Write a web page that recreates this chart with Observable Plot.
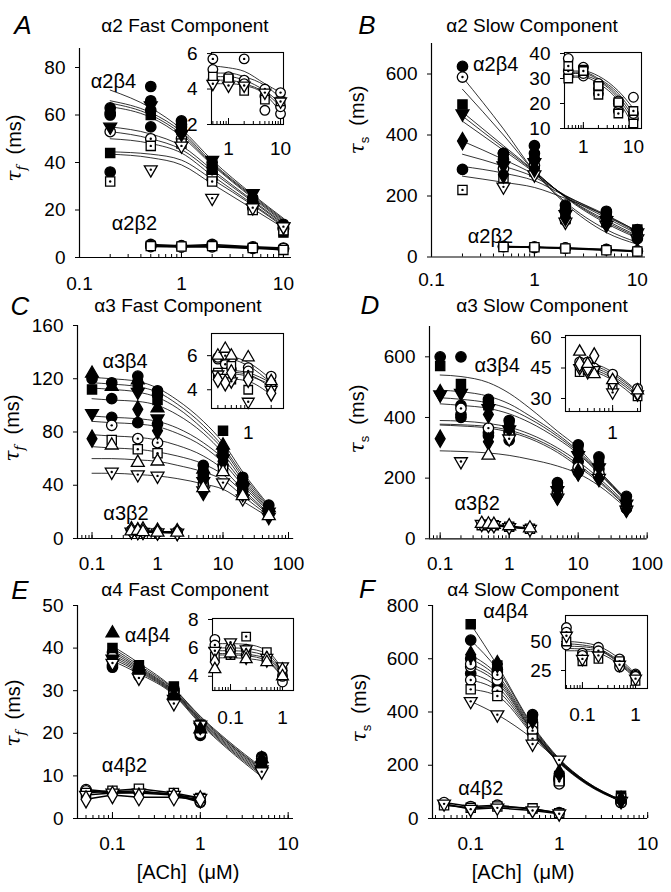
<!DOCTYPE html>
<html><head><meta charset="utf-8">
<script src="https://cdn.jsdelivr.net/npm/d3@7"></script>
<script src="https://cdn.jsdelivr.net/npm/@observablehq/plot@0.6"></script>
<style>
body{margin:0;background:#fff;}
#fig{position:relative;width:671px;height:892px;overflow:hidden;font-family:"Liberation Sans",Arial,Helvetica,sans-serif;color:#000;background:#fff;}
.abs{position:absolute;white-space:nowrap;line-height:1;}
.title{font-size:19px;transform:translate(-50%,-50%);}
.letter{font-size:26px;font-style:italic;transform:translate(-50%,-50%);}
.ylab{font-size:20px;transform:translate(-50%,-50%) rotate(-90deg);}
.ylab i{font-family:"DejaVu Serif",serif;}
.ylab sub{font-size:13px;}
.xlab{font-size:20px;transform:translate(-50%,-50%);}
</style>
</head><body><div id="fig"></div>
<script>
// ---------------- DATA ----------------
// Panel A: alpha2 fast
const aConc4 = [0.2, 0.5, 1, 2, 5, 10];
const aVals4 = [
  [63, 72, 57.5, 40, 25, 14],
  [61, 55, 56, 38, 23, 13],
  [55, 64, 52, 41, 27, 13],
  [53, 50, 50, 35, 22, 12],
  [44, 60, 54, 37, 24, 10.5],
  [36, 62, 53, 33, 21, 12],
  [32, 47, 48, 32, 20, 11.5],
  [null, 37, 47, 25, 21, 13],
  [60, 66, 55, 36, 23, 12.5]
];
const aSyms4 = ["fc", "fc", "ftd", "ocd", "fs", "fc", "osd", "otd", "fc"];
const aFitX = [0.2, 0.5, 1, 2, 5, 10];
const aFits = [
  [70.5, 63, 54, 41, 26.5, 16.5],
  [66, 61, 53, 40, 26, 16],
  [65, 60, 52, 39.5, 25.5, 15.5],
  [63.5, 59, 51, 39, 25, 15],
  [55, 52, 47, 37, 24, 14.5],
  [53, 50, 45.5, 36, 23.5, 14],
  [50, 48, 44, 34.5, 22.5, 13.5],
  [44.5, 43.5, 41, 33, 22, 13],
  [43.5, 42, 39, 31, 20.5, 12.5]
];
const aConc2 = [0.5, 1, 2, 5, 10];
const aVals2 = [
  [5.5, 5, 5.5, 4.5, 4],
  [5, 4.8, 5, 4.2, 3.5],
  [4.8, 4.6, 4.8, 4.0, 3.2],
  [4.6, 4.4, 4.5, 3.8, 3.8]
];
const aSyms2 = ["oc", "oc", "os", "ocd"];
const aInConc = [0.5, 1, 2, 5, 10];
const aInVals = [
  [5.7, 4.7, 5.7, 4.0, 3.8],
  [5.1, 4.6, 4.5, 2.8, 2.6],
  [4.7, 4.6, 3.9, 3.4, 3.3],
  [4.3, 4.2, 4.2, 3.8, 3.3],
  [4.5, 4.4, 4.3, 3.6, 3.0]
];
const aInSyms = ["ocd", "oc", "os", "otd", "oc"];
const aInFits = [
  [5.3, 5.2, 5.0, 4.3, 3.8],
  [4.9, 4.9, 4.7, 4.2, 3.5],
  [4.7, 4.7, 4.5, 3.9, 3.2],
  [4.5, 4.5, 4.3, 3.8, 3.0],
  [4.3, 4.3, 4.2, 3.7, 2.7]
];

// Panel B: alpha2 slow
const bConc4 = [0.2, 0.5, 1, 2, 5, 10];
const bVals4 = [
  [625, 340, 365, 170, 150, 90],
  [590, 290, 300, 150, 130, 70],
  [500, 330, 330, 160, 140, 90],
  [470, 300, 310, 140, 120, 80],
  [380, 270, 290, 130, 110, 65],
  [287, 320, 340, 120, 145, 60],
  [220, 260, 280, 125, 115, 75],
  [null, 230, 270, 115, 105, 60],
  [null, 340, 320, 155, 135, 85]
];
const bSyms4 = ["fc", "ocd", "fs", "ftd", "fd", "fc", "osd", "otd", "fc"];
const bFitX = [0.2, 0.5, 1, 2, 5, 10];
const bFits = [
  [590, 420, 280, 175, 80, 42],
  [550, 400, 280, 180, 90, 48],
  [475, 365, 282, 195, 110, 62],
  [462, 358, 280, 197, 115, 66],
  [445, 350, 277, 198, 120, 70],
  [380, 320, 270, 200, 128, 76],
  [337, 298, 262, 202, 134, 80],
  [297, 275, 250, 200, 138, 84],
  [265, 245, 228, 192, 135, 85]
];
const bConc2 = [0.5, 1, 2, 5, 10];
const bVals2 = [
  [35, 33, 30, 25, 20],
  [33, 32, 28, 22, 18],
  [34, 31, 29, 24, 19]
];
const bSyms2 = ["oc", "os", "ocd"];
const bInConc = [0.5, 1, 2, 5, 10];
const bInVals = [
  [38, 34.5, 28, 21, 22.5],
  [35, 33, 23.5, 16, 17],
  [33, 32, 24, 20, 16],
  [31, 31, 26, 17, 14],
  [30, 33.5, 27, 20.5, 12]
];
const bInSyms = ["oc", "osd", "ocd", "oc", "os"];
const bInFits = [
  [33, 33, 31, 25, 18],
  [32.5, 32.5, 30, 24, 16],
  [32, 32, 29.5, 23, 14.5],
  [31, 31, 29, 22, 13],
  [30.5, 30.5, 28, 21, 11]
];

// Panel C: alpha3 fast
const cConc4 = [0.1, 0.2, 0.5, 1, 5, 10, 20, 50];
const cVals4 = [
  [124, 114, 119, 98, 52, 70, 44, 23],
  [120, 117, 122, 111, 55, 67, 46, 25],
  [112, null, 116, 104, 50, 81, 42, 22],
  [null, 105, null, 108, 48, 65, 40, 21],
  [94, null, 110, 90, 43, 60, 38, 20],
  [null, 91, 87, 86, 46, 62, 37, 19],
  [null, 85, 75, 72, 41, 55, 35, 20],
  [75, null, 97, 81, 35, 58, 34, 18],
  [null, 74, 67, 64, 40, 52, 33, 18],
  [null, 70, 57, 58, 38, 50, 32, 17],
  [null, 50, 48, 47, 36, 42, 30, 16]
];
const cSyms4 = ["ftu", "fc", "fs", "fc", "ftd", "fc", "ocd", "fd", "osd", "otu", "otd"];
const cFitX = [0.1, 0.2, 0.5, 1, 2, 5, 10, 20, 50];
const cFits = [
  [121, 120, 118, 113, 104, 88, 72, 50, 25],
  [117, 116, 114, 110, 101, 85, 69, 48, 24],
  [113, 112, 110, 106, 98, 82, 67, 46, 23],
  [105, 104, 103, 100, 93, 79, 64, 44, 22],
  [92, 91, 90, 88, 83, 72, 60, 42, 21],
  [88, 87, 86, 84, 79, 69, 57, 40, 20],
  [78, 77, 76, 74, 70, 62, 52, 37, 19],
  [69, 68, 67, 65, 62, 56, 48, 35, 18],
  [60, 60, 59, 58, 55, 50, 44, 32, 17],
  [49, 49, 48, 47, 45, 41, 37, 28, 16]
];
const cConc2 = [0.4, 0.5, 0.6, 1, 2];
const cVals2 = [
  [6, 6, 5.5, 5, 5],
  [5.5, 5.8, 5, 4.6, 4.5],
  [5, 5, 4.8, 4.5, 4.2],
  [6.2, 5.5, 6, 5.2, 4.8]
];
const cSyms2 = ["oc", "otu", "otd", "od"];
const cInConc = [0.4, 0.5, 0.6, 1, 2];
const cInVals = [
  [6.0, 6.4, 6.0, 5.9, 4.5],
  [5.8, 5.7, 5.8, 5.3, 4.8],
  [5.0, 6.0, 5.4, 4.8, 4.2],
  [4.9, 4.7, 4.5, 3.3, 4.0],
  [4.6, 4.4, 5.0, 4.6, 3.8],
  [4.9, 5.0, 4.6, 4.0, 4.3],
  [5.9, 5.5, 5.2, 5.1, 4.2]
];
const cInSyms = ["otu", "oc", "osd", "otd", "od", "os", "ocd"];
const cInFits = [
  [6.0, 6.0, 5.95, 5.6, 4.6],
  [5.9, 5.85, 5.8, 5.4, 4.4],
  [5.2, 5.2, 5.15, 5.0, 4.4],
  [5.1, 5.1, 5.05, 4.9, 4.1],
  [5.0, 5.0, 4.95, 4.8, 4.3],
  [4.7, 4.7, 4.65, 4.5, 3.7]
];

// Panel D: alpha3 slow
const dConc4 = [0.1, 0.2, 0.5, 1, 5, 10, 20, 50];
const dVals4 = [
  [600, 600, 460, 390, 185, 310, 270, 140],
  [570, 510, 440, 380, 175, 300, 260, 130],
  [480, 490, 410, 370, 165, 290, 245, 120],
  [475, 480, 430, 360, 160, 275, 235, 115],
  [null, 440, 450, 350, 170, 255, 230, 110],
  [null, 430, 365, 340, 155, 235, 215, 105],
  [null, 410, 350, 325, 150, 230, 210, 100],
  [null, 400, 340, 355, 145, 220, 205, 100],
  [330, null, 320, null, 140, 220, 200, 100],
  [null, 255, null, 330, 135, 215, 200, 95],
  [null, null, 275, null, null, null, null, null]
];
const dSyms4 = ["fc", "fs", "fd", "ftd", "fc", "ocd", "fc", "fc", "fd", "otd", "otu"];
const dFitX = [0.1, 0.2, 0.5, 1, 2, 5, 10, 20, 50];
const dFits = [
  [540, 535, 515, 480, 430, 355, 300, 225, 130],
  [490, 485, 470, 445, 405, 345, 290, 222, 128],
  [465, 460, 448, 428, 395, 338, 285, 218, 125],
  [445, 440, 430, 412, 383, 330, 280, 215, 122],
  [390, 388, 380, 368, 345, 300, 255, 200, 115],
  [378, 376, 370, 358, 336, 292, 245, 192, 110],
  [375, 372, 365, 352, 330, 285, 238, 187, 106],
  [290, 288, 283, 275, 262, 240, 215, 175, 100]
];
const dConc2 = [0.4, 0.5, 0.6, 1, 2];
const dVals2 = [
  [50, 48, 47, 42, 35],
  [45, 46, 45, 40, 33],
  [48, 45, 44, 38, 32]
];
const dSyms2 = ["otu", "os", "otd"];
const dInConc = [0.4, 0.5, 0.6, 1, 2];
const dInVals = [
  [53, 47, 42, 39, 34],
  [48, 48, 45, 42, 35],
  [43, 44, 43, 36, 31],
  [47, 45, 51, 38, 33],
  [45, 43, 44, 33, 32]
];
const dInSyms = ["otu", "oc", "os", "od", "otd"];
const dInFits = [
  [48, 47.5, 47, 43, 33.5],
  [47, 46.5, 46, 42, 33],
  [46, 45.5, 45, 41, 32],
  [45, 44.5, 44, 40, 31],
  [44, 43.5, 43, 39, 29.5]
];

// Panel E: alpha4 fast
const eConc4 = [0.1, 0.2, 0.5, 1, 5];
const eVals4 = [
  [43.5, 35, 29, 21, 14],
  [40, 36, 31, 22, 13],
  [39, 35.5, 30.5, 20.5, 14.5],
  [38, 34.5, 30, 20, 14],
  [37.5, 34, 28, 21.5, 11.5],
  [37, 34, 29.5, 20, 13.5],
  [36, 35, 30, 19.5, 14],
  [36.5, 33, 27, 22, 11],
  [35.5, 33.5, 29, 20, 13]
];
const eSyms4 = ["ftu", "fs", "fc", "ocd", "ftd", "oc", "fc", "otd", "fc"];
const eFitX = [0.1, 0.2, 0.5, 1, 2, 5];
const eFits = [
  [40.5, 36.5, 30.5, 24, 18.5, 12],
  [40, 36, 30.3, 23.8, 18.2, 11.7],
  [39.5, 35.6, 30, 23.5, 18, 11.4],
  [39, 35.3, 29.8, 23.2, 17.7, 11.1],
  [38.5, 35, 29.6, 23, 17.4, 10.8],
  [38, 34.7, 29.4, 22.8, 17.1, 10.5],
  [37.5, 34.4, 29.2, 22.5, 16.8, 10.2],
  [37, 34, 29, 22.2, 16.5, 9.8]
];
const eConc2 = [0.05, 0.1, 0.2, 0.5, 1];
const eVals2 = [
  [6.5, 6.0, 6.2, 5.8, 4.0],
  [4.5, 5.5, 5, 5, 4.5],
  [6, 6.5, 7, 6, 4.8],
  [5.5, 6, 6, 5.5, 4.8],
  [6.8, 6.2, 6.5, 5.5, 3.8]
];
const eSyms2 = ["ocd", "od", "osd", "otd", "oc"];
const eInConc = [0.05, 0.1, 0.2, 0.5, 1];
const eInVals = [
  [6.6, 5.8, 5.9, 5.4, 3.6],
  [6.2, 6.0, 5.5, 5.1, 4.0],
  [5.8, 6.4, 5.9, 5.3, 4.7],
  [5.4, 5.5, 6.8, 5.7, 4.3],
  [4.5, 5.6, 5.2, 5.0, 4.0],
  [5.0, 5.8, 5.4, 5.2, 4.4]
];
const eInSyms = ["oc", "ocd", "otd", "osd", "otu", "od"];
const eInFits = [
  [6.3, 6.3, 6.25, 5.8, 4.5],
  [6.0, 6.0, 5.95, 5.6, 4.3],
  [5.8, 5.8, 5.75, 5.4, 4.2],
  [5.6, 5.6, 5.55, 5.25, 4.1],
  [5.5, 5.5, 5.45, 5.1, 4.0],
  [5.3, 5.3, 5.25, 5.0, 3.9]
];

// Panel F: alpha4 slow
const fConc4 = [0.1, 0.2, 0.5, 1, 5];
const fVals4 = [
  [730, 575, 380, 160, 85],
  [670, 560, 390, 150, 75],
  [615, 580, 370, 170, 70],
  [600, 550, 360, 140, 65],
  [580, 540, 350, 130, 60],
  [570, 520, 340, 145, 70],
  [545, 500, 320, 160, 65],
  [520, 480, 330, 150, 60],
  [485, 460, 300, 140, 75],
  [440, 390, 280, 220, 65]
];
const fSyms4 = ["fs", "fc", "fd", "fc", "ocd", "oc", "fc", "ocd", "osd", "otd"];
const fFitX = [0.1, 0.2, 0.5, 1, 2, 5];
const fFits = [
  [730, 575, 350, 225, 140, 70],
  [670, 560, 345, 222, 140, 70],
  [615, 540, 340, 220, 138, 68],
  [600, 530, 335, 218, 137, 68],
  [580, 520, 330, 215, 135, 67],
  [570, 510, 328, 213, 134, 66],
  [545, 495, 325, 212, 133, 65],
  [520, 480, 320, 210, 132, 65],
  [485, 460, 315, 208, 130, 64],
  [440, 390, 300, 215, 135, 66]
];
const fConc2 = [0.05, 0.1, 0.2, 0.5, 1];
const fVals2 = [
  [60, 45, 50, 35, 22],
  [50, 40, 45, 38, 20],
  [55, 35, 40, 30, 18]
];
const fSyms2 = ["oc", "osd", "otd"];
const fInConc = [0.05, 0.1, 0.2, 0.5, 1];
const fInVals = [
  [62, 40, 45, 35, 22],
  [58, 38, 42, 32, 20],
  [55, 35, 38, 30, 18],
  [50, 33, 35, 33, 16],
  [47, 36, 40, 28, 21]
];
const fInSyms = ["oc", "ocd", "otd", "osd", "oc"];
const fInFits = [
  [50, 49, 46, 35, 22],
  [48, 47, 44, 33, 21],
  [46, 45.5, 43, 32, 20],
  [44, 43.5, 42, 31, 19],
  [42, 42, 40, 30, 18]
];

// tick labels
const ticksA_y = [0, 20, 40, 60, 80], ticksA_x = [0.1, 1, 10];
const ticksAin_y = [2, 4, 6], ticksAin_x = [1, 10];
const ticksB_y = [0, 200, 400, 600], ticksB_x = [0.1, 1, 10];
const ticksBin_y = [10, 20, 30, 40], ticksBin_x = [1, 10];
const ticksC_y = [0, 40, 80, 120, 160], ticksC_x = [0.1, 1, 10, 100];
const ticksCin_y = [4, 6], ticksCin_x = [1];
const ticksD_y = [0, 200, 400, 600], ticksD_x = [0.1, 1, 10, 100];
const ticksDin_y = [30, 45, 60], ticksDin_x = [1];
const ticksE_y = [0, 10, 20, 30, 40, 50], ticksE_x = [0.1, 1, 10];
const ticksEin_y = [4, 6, 8], ticksEin_x = [0.1, 1];
const ticksF_y = [0, 200, 400, 600, 800], ticksF_x = [0.1, 1, 10];
const ticksFin_y = [25, 50], ticksFin_x = [0.1, 1];

// ---------------- DRAWING ----------------
const fig = document.getElementById("fig");
const FONT = "'Liberation Sans', Arial, Helvetica, sans-serif";
const TICKFS = 19;

const triDown = {draw(c, size) {
  const y = -Math.sqrt(size / (Math.sqrt(3) * 3));
  c.moveTo(0, -2 * y); c.lineTo(-Math.sqrt(3) * y, y); c.lineTo(Math.sqrt(3) * y, y); c.closePath();
}};
const SYM = {
  fc: {symbol: "circle", fill: "black"},
  oc: {symbol: "circle", fill: "white"},
  ocd: {symbol: "circle", fill: "white", dot: true},
  fs: {symbol: "square", fill: "black"},
  os: {symbol: "square", fill: "white"},
  osd: {symbol: "square", fill: "white", dot: true},
  ftd: {symbol: triDown, fill: "black"},
  otd: {symbol: triDown, fill: "white", dot: true},
  fd: {symbol: "diamond", fill: "black"},
  od: {symbol: "diamond", fill: "white"},
  ftu: {symbol: "triangle", fill: "black"},
  otu: {symbol: "triangle", fill: "white"}
};

function pts(conc, vals, syms) {
  const out = [];
  vals.forEach((row, i) => row.forEach((v, j) => { if (v != null) out.push({x: conc[j], y: v, s: syms ? syms[i] : null, k: i}); }));
  return out;
}
function symbolMarks(data, r) {
  const m = [];
  for (const [name, st] of Object.entries(SYM)) {
    const d = data.filter(p => p.s === name);
    if (!d.length) continue;
    const rr = (name === "ftu" || name === "otu" || name === "ftd" || name === "otd") ? r * 0.92 : r;
    m.push(Plot.dot(d, {x: "x", y: "y", symbol: st.symbol, r: rr, fill: st.fill, stroke: "black", strokeWidth: 1.3}));
    if (st.dot) m.push(Plot.dot(d, {x: "x", y: "y", r: 1.2, fill: "black", stroke: "none"}));
  }
  return m;
}
function seriesMarks(o) {
  const m = [];
  if (o.fits) m.push(Plot.line(pts(o.fitX, o.fits), {x: "x", y: "y", z: "k", curve: "monotone-x", stroke: "black", strokeWidth: 0.8}));
  if (o.vals2) m.push(Plot.line(pts(o.conc2, o.vals2), {x: "x", y: "y", z: "k", stroke: "black", strokeWidth: 1.5}));
  m.push(...symbolMarks(pts(o.conc, o.vals, o.syms), o.r));
  if (o.vals2) m.push(...symbolMarks(pts(o.conc2, o.vals2, o.syms2), o.r));
  return m;
}
function label(x, y, t) {
  return Plot.text([{x, y, t}], {x: "x", y: "y", text: "t", fontSize: 20, textAnchor: "middle", fill: "black"});
}

function panel(cfg) {
  const {box, xDom, yDom, marks, yTicks, xTicks, inset, xPad, yPad} = cfg;
  const pl = 70, pr = 20, pt = 20, pb = 50;
  const w = box.x1 - box.x0, h = box.y1 - box.y0;
  const perPx = (yDom[1] - yDom[0]) / h;
  const minor = d3.scaleLog().domain(xDom).ticks();
  const major = xTicks.filter(v => v >= xDom[0] && v <= xDom[1]);
  const axes = [];
  if (inset) axes.push(Plot.frame({fill: "white", stroke: "black", strokeWidth: 1.1}));
  else {
    axes.push(Plot.ruleY([yDom[0]], {stroke: "black", strokeWidth: 1.2}));
    axes.push(Plot.ruleX([xDom[0]], {stroke: "black", strokeWidth: 1.2}));
  }
  axes.push(Plot.ruleX(minor, {x: d => d, y1: yDom[0], y2: yDom[0] + 3 * perPx, stroke: "black", strokeWidth: 1}));
  axes.push(Plot.ruleX(major, {x: d => d, y1: yDom[0], y2: yDom[0] + 6 * perPx, stroke: "black", strokeWidth: 1}));
  axes.push(Plot.axisY({ticks: yTicks, tickSize: 4, tickPadding: yPad, tickFormat: d => String(d), label: null, fontSize: TICKFS}));
  axes.push(Plot.axisX({ticks: xTicks, tickSize: 0, tickPadding: xPad, tickFormat: d => String(d), label: null, fontSize: TICKFS}));
  const svg = Plot.plot({
    width: w + pl + pr, height: h + pt + pb,
    marginLeft: pl, marginRight: pr, marginTop: pt, marginBottom: pb,
    x: {type: "log", domain: xDom},
    y: {type: "linear", domain: yDom},
    style: {fontFamily: FONT, fontSize: TICKFS + "px", background: "transparent", overflow: "visible", color: "black"},
    marks: [...axes, ...marks]
  });
  svg.style.position = "absolute";
  svg.style.left = (box.x0 - pl) + "px";
  svg.style.top = (box.y0 - pt) + "px";
  svg.style.maxWidth = "none";
  fig.appendChild(svg);
}

function html(cls, x, y, content) {
  const d = document.createElement("div");
  d.className = "abs " + cls;
  d.style.left = x + "px"; d.style.top = y + "px";
  d.innerHTML = content;
  fig.appendChild(d);
}

const R = 5.2, RI = 4.8;

// ---- main panels ----
panel({box: {x0: 79, x1: 291, y0: 48, y1: 257}, xDom: [0.1, 12], yDom: [0, 88], yTicks: ticksA_y, xTicks: ticksA_x, xPad: 19, yPad: 10,
  marks: [...seriesMarks({conc: aConc4, vals: aVals4, syms: aSyms4, fitX: aFitX, fits: aFits, conc2: aConc2, vals2: aVals2, syms2: aSyms2, r: R}),
    label(0.215, 74, "α2β4"), label(0.346, 14.3, "α2β2")]});
panel({box: {x0: 431, x1: 645, y0: 42.5, y1: 256}, xDom: [0.1, 12], yDom: [0, 700], yTicks: ticksB_y, xTicks: ticksB_x, xPad: 15, yPad: 10,
  marks: [...seriesMarks({conc: bConc4, vals: bVals4, syms: bSyms4, fitX: bFitX, fits: bFits, conc2: bConc2, vals2: bVals2, syms2: bSyms2, r: R}),
    label(0.42, 630, "α2β4"), label(0.374, 66, "α2β2")]});
panel({box: {x0: 76.5, x1: 292.7, y0: 325, y1: 538}, xDom: [0.06, 120], yDom: [0, 160], yTicks: ticksC_y, xTicks: ticksC_x, xPad: 18, yPad: 10,
  marks: [...seriesMarks({conc: cConc4, vals: cVals4, syms: cSyms4, fitX: cFitX, fits: cFits, conc2: cConc2, vals2: cVals2, syms2: cSyms2, r: R}),
    label(0.319, 133, "α3β4"), label(0.33, 19, "α3β2")]});
panel({box: {x0: 429.3, x1: 647, y0: 325.7, y1: 538}, xDom: [0.07, 100], yDom: [0, 700], yTicks: ticksD_y, xTicks: ticksD_x, xPad: 18, yPad: 10,
  marks: [...seriesMarks({conc: dConc4, vals: dVals4, syms: dSyms4, fitX: dFitX, fits: dFits, conc2: dConc2, vals2: dVals2, syms2: dSyms2, r: R}),
    label(0.67, 570, "α3β4"), label(0.344, 115, "α3β2")]});
panel({box: {x0: 77, x1: 293, y0: 605, y1: 818}, xDom: [0.04, 11.5], yDom: [0, 50], yTicks: ticksE_y, xTicks: ticksE_x, xPad: 17.5, yPad: 10,
  marks: [...seriesMarks({conc: eConc4, vals: eVals4, syms: eSyms4, fitX: eFitX, fits: eFits, conc2: eConc2, vals2: eVals2, syms2: eSyms2, r: R}),
    label(0.25, 43, "α4β4"), label(0.137, 12.4, "α4β2")]});
panel({box: {x0: 431.8, x1: 647, y0: 605, y1: 818}, xDom: [0.037, 10], yDom: [0, 800], yTicks: ticksF_y, xTicks: ticksF_x, xPad: 18.5, yPad: 10,
  marks: [...seriesMarks({conc: fConc4, vals: fVals4, syms: fSyms4, fitX: fFitX, fits: fFits, conc2: fConc2, vals2: fVals2, syms2: fSyms2, r: R}),
    label(0.249, 776, "α4β4"), label(0.13, 113, "α4β2")]});

// ---- insets ----
panel({inset: true, box: {x0: 211, x1: 283, y0: 52, y1: 124}, xDom: [0.471, 11.4], yDom: [2, 6.06], yTicks: ticksAin_y, xTicks: ticksAin_x, xPad: 17, yPad: 10,
  marks: seriesMarks({conc: aInConc, vals: aInVals, syms: aInSyms, fitX: aInConc, fits: aInFits, r: RI})});
panel({inset: true, box: {x0: 564, x1: 641, y0: 52, y1: 128}, xDom: [0.42, 14.5], yDom: [10, 40.4], yTicks: ticksBin_y, xTicks: ticksBin_x, xPad: 11, yPad: 10,
  marks: seriesMarks({conc: bInConc, vals: bInVals, syms: bInSyms, fitX: bInConc, fits: bInFits, r: RI})});
panel({inset: true, box: {x0: 211, x1: 283, y0: 333, y1: 408}, xDom: [0.33, 2.9], yDom: [2.9, 7.3], yTicks: ticksCin_y, xTicks: ticksCin_x, xPad: 17, yPad: 10,
  marks: seriesMarks({conc: cInConc, vals: cInVals, syms: cInSyms, fitX: cInConc, fits: cInFits, r: RI})});
panel({inset: true, box: {x0: 565, x1: 640, y0: 335, y1: 411}, xDom: [0.27, 2.17], yDom: [23.6, 61], yTicks: ticksDin_y, xTicks: ticksDin_x, xPad: 14, yPad: 10,
  marks: seriesMarks({conc: dInConc, vals: dInVals, syms: dInSyms, fitX: dInConc, fits: dInFits, r: RI})});
panel({inset: true, box: {x0: 212, x1: 293, y0: 618, y1: 690}, xDom: [0.045, 1.63], yDom: [3.0, 8.07], yTicks: ticksEin_y, xTicks: ticksEin_x, xPad: 20, yPad: 10,
  marks: seriesMarks({conc: eInConc, vals: eInVals, syms: eInSyms, fitX: eInConc, fits: eInFits, r: RI})});
panel({inset: true, box: {x0: 565, x1: 647, y0: 615, y1: 688}, xDom: [0.048, 1.68], yDom: [9.5, 72.4], yTicks: ticksFin_y, xTicks: ticksFin_x, xPad: 18.5, yPad: 10,
  marks: seriesMarks({conc: fInConc, vals: fInVals, syms: fInSyms, fitX: fInConc, fits: fInFits, r: RI})});

// ---- text ----
html("letter", 23, 25, "A"); html("letter", 367, 25, "B");
html("letter", 20, 306, "C"); html("letter", 370, 305, "D");
html("letter", 20, 590, "E"); html("letter", 367, 589, "F");
html("title", 185, 25, "α2 Fast Component"); html("title", 532, 25, "α2 Slow Component");
html("title", 178, 305, "α3 Fast Component"); html("title", 542, 305, "α3 Slow Component");
html("title", 185, 589, "α4 Fast Component"); html("title", 533, 589, "α4 Slow Component");
html("ylab", 16, 148, "<i>τ</i><sub><i>f</i></sub>&nbsp; (ms)");
html("ylab", 359, 120, "<i>τ</i><sub>s</sub>&nbsp; (ms)");
html("ylab", 14, 428, "<i>τ</i><sub><i>f</i></sub>&nbsp; (ms)");
html("ylab", 359, 419, "<i>τ</i><sub>s</sub>&nbsp; (ms)");
html("ylab", 15, 713, "<i>τ</i><sub><i>f</i></sub>&nbsp; (ms)");
html("ylab", 361, 708, "<i>τ</i><sub>s</sub>&nbsp; (ms)");
html("xlab", 188, 872, "[ACh]&nbsp; (μM)"); html("xlab", 523, 872, "[ACh]&nbsp; (μM)");
</script>
</body></html>
